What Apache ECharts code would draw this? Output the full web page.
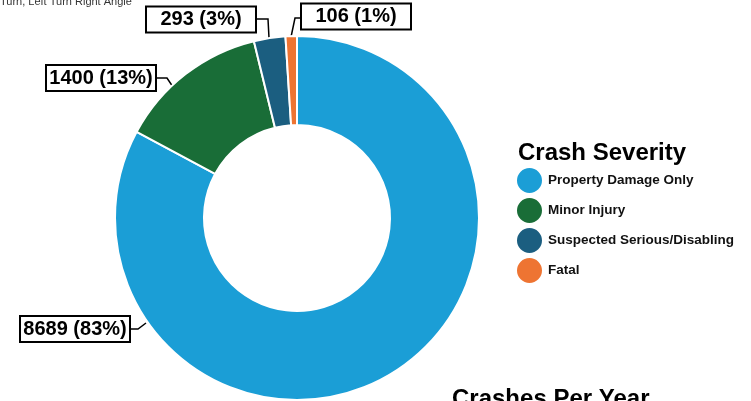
<!DOCTYPE html>
<html>
<head>
<meta charset="utf-8">
<script src="https://cdn.jsdelivr.net/npm/echarts@6/dist/echarts.min.js"></script>
<style>
	html, body { margin: 0; padding: 0; background: #fff; }
	#severity { width: 751px; height: 401px; }
</style>
</head>
<body>
<div id="severity"></div>
<script>
"use strict";

/*-----crash severity donut-----*/
var categories = ['Property Damage Only', 'Minor Injury', 'Suspected Serious/Disabling', 'Fatal'];
var crashCounts = [8689, 1400, 293, 106];
var sliceColors = ['#1b9ed6', '#196d37', '#1b5e80', '#ee7432'];

// where each callout box sits, and its leader line
var labelSpots = [
	{ x: 75, y: 329, line: [[146, 323], [138, 329], [131, 329]] },
	{ x: 101, y: 78, line: [[173, 87], [167, 78], [155, 78]] },
	{ x: 201, y: 19.5, line: [[269, 38], [268, 19], [255, 19]] },
	{ x: 356, y: 16.5, line: [[291, 37], [295, 18], [303, 18]] }
];

var chart = document.getElementById('severity');
var pieChart = echarts.init(chart);

var pieData = categories.map(function (name, i) {
	return { name: name, value: crashCounts[i] };
});

var option = {
	animation: false,
	color: sliceColors,
	legend: {
		orient: 'vertical',
		left: 515,
		top: 166,
		padding: 0,
		icon: 'circle',
		itemWidth: 27,
		itemHeight: 27,
		itemGap: 1,
		textStyle: {
			fontFamily: 'Liberation Sans',
			fontSize: 13.5,
			fontWeight: 'bold',
			lineHeight: 16,
			color: '#111'
		},
		data: categories
	},
	graphic: [{
		type: 'text',
		left: 0,
		top: -4,
		style: {
			text: 'Turn, Left Turn Right Angle',
			font: '11px "Liberation Sans"',
			fill: '#333'
		}
	}, {
		type: 'text',
		left: 518,
		top: 141,
		style: {
			text: 'Crash Severity',
			font: 'bold 24px "Liberation Sans"',
			fill: '#000'
		}
	}, {
		type: 'text',
		left: 452,
		top: 387,
		style: {
			text: 'Crashes Per Year',
			font: 'bold 24px "Liberation Sans"',
			fill: '#000'
		}
	}],
	series: [{
		type: 'pie',
		center: [297, 218],
		radius: [93, 182],
		startAngle: 90,
		clockwise: true,
		itemStyle: {
			borderColor: '#fff',
			borderWidth: 2
		},
		label: {
			show: true,
			position: 'outside',
			formatter: function (p) {
				return p.value + ' (' + Math.round(p.percent) + '%)';
			},
			fontFamily: 'Liberation Sans',
			fontSize: 20,
			fontWeight: 'bold',
			color: '#000',
			backgroundColor: '#fff',
			borderColor: '#000',
			borderWidth: 2,
			width: 104,
			overflow: 'none',
			align: 'center',
			lineHeight: 22,
			padding: [1, 2]
		},
		labelLine: {
			show: true,
			lineStyle: {
				color: '#000',
				width: 1.5
			}
		},
		labelLayout: function (params) {
			var s = labelSpots[params.dataIndex];
			return {
				x: s.x,
				y: s.y,
				align: 'center',
				verticalAlign: 'middle',
				labelLinePoints: s.line
			};
		},
		data: pieData
	}]
};
pieChart.setOption(option);
window.addEventListener('resize', function () {
	pieChart.resize();
});
</script>
</body>
</html>
